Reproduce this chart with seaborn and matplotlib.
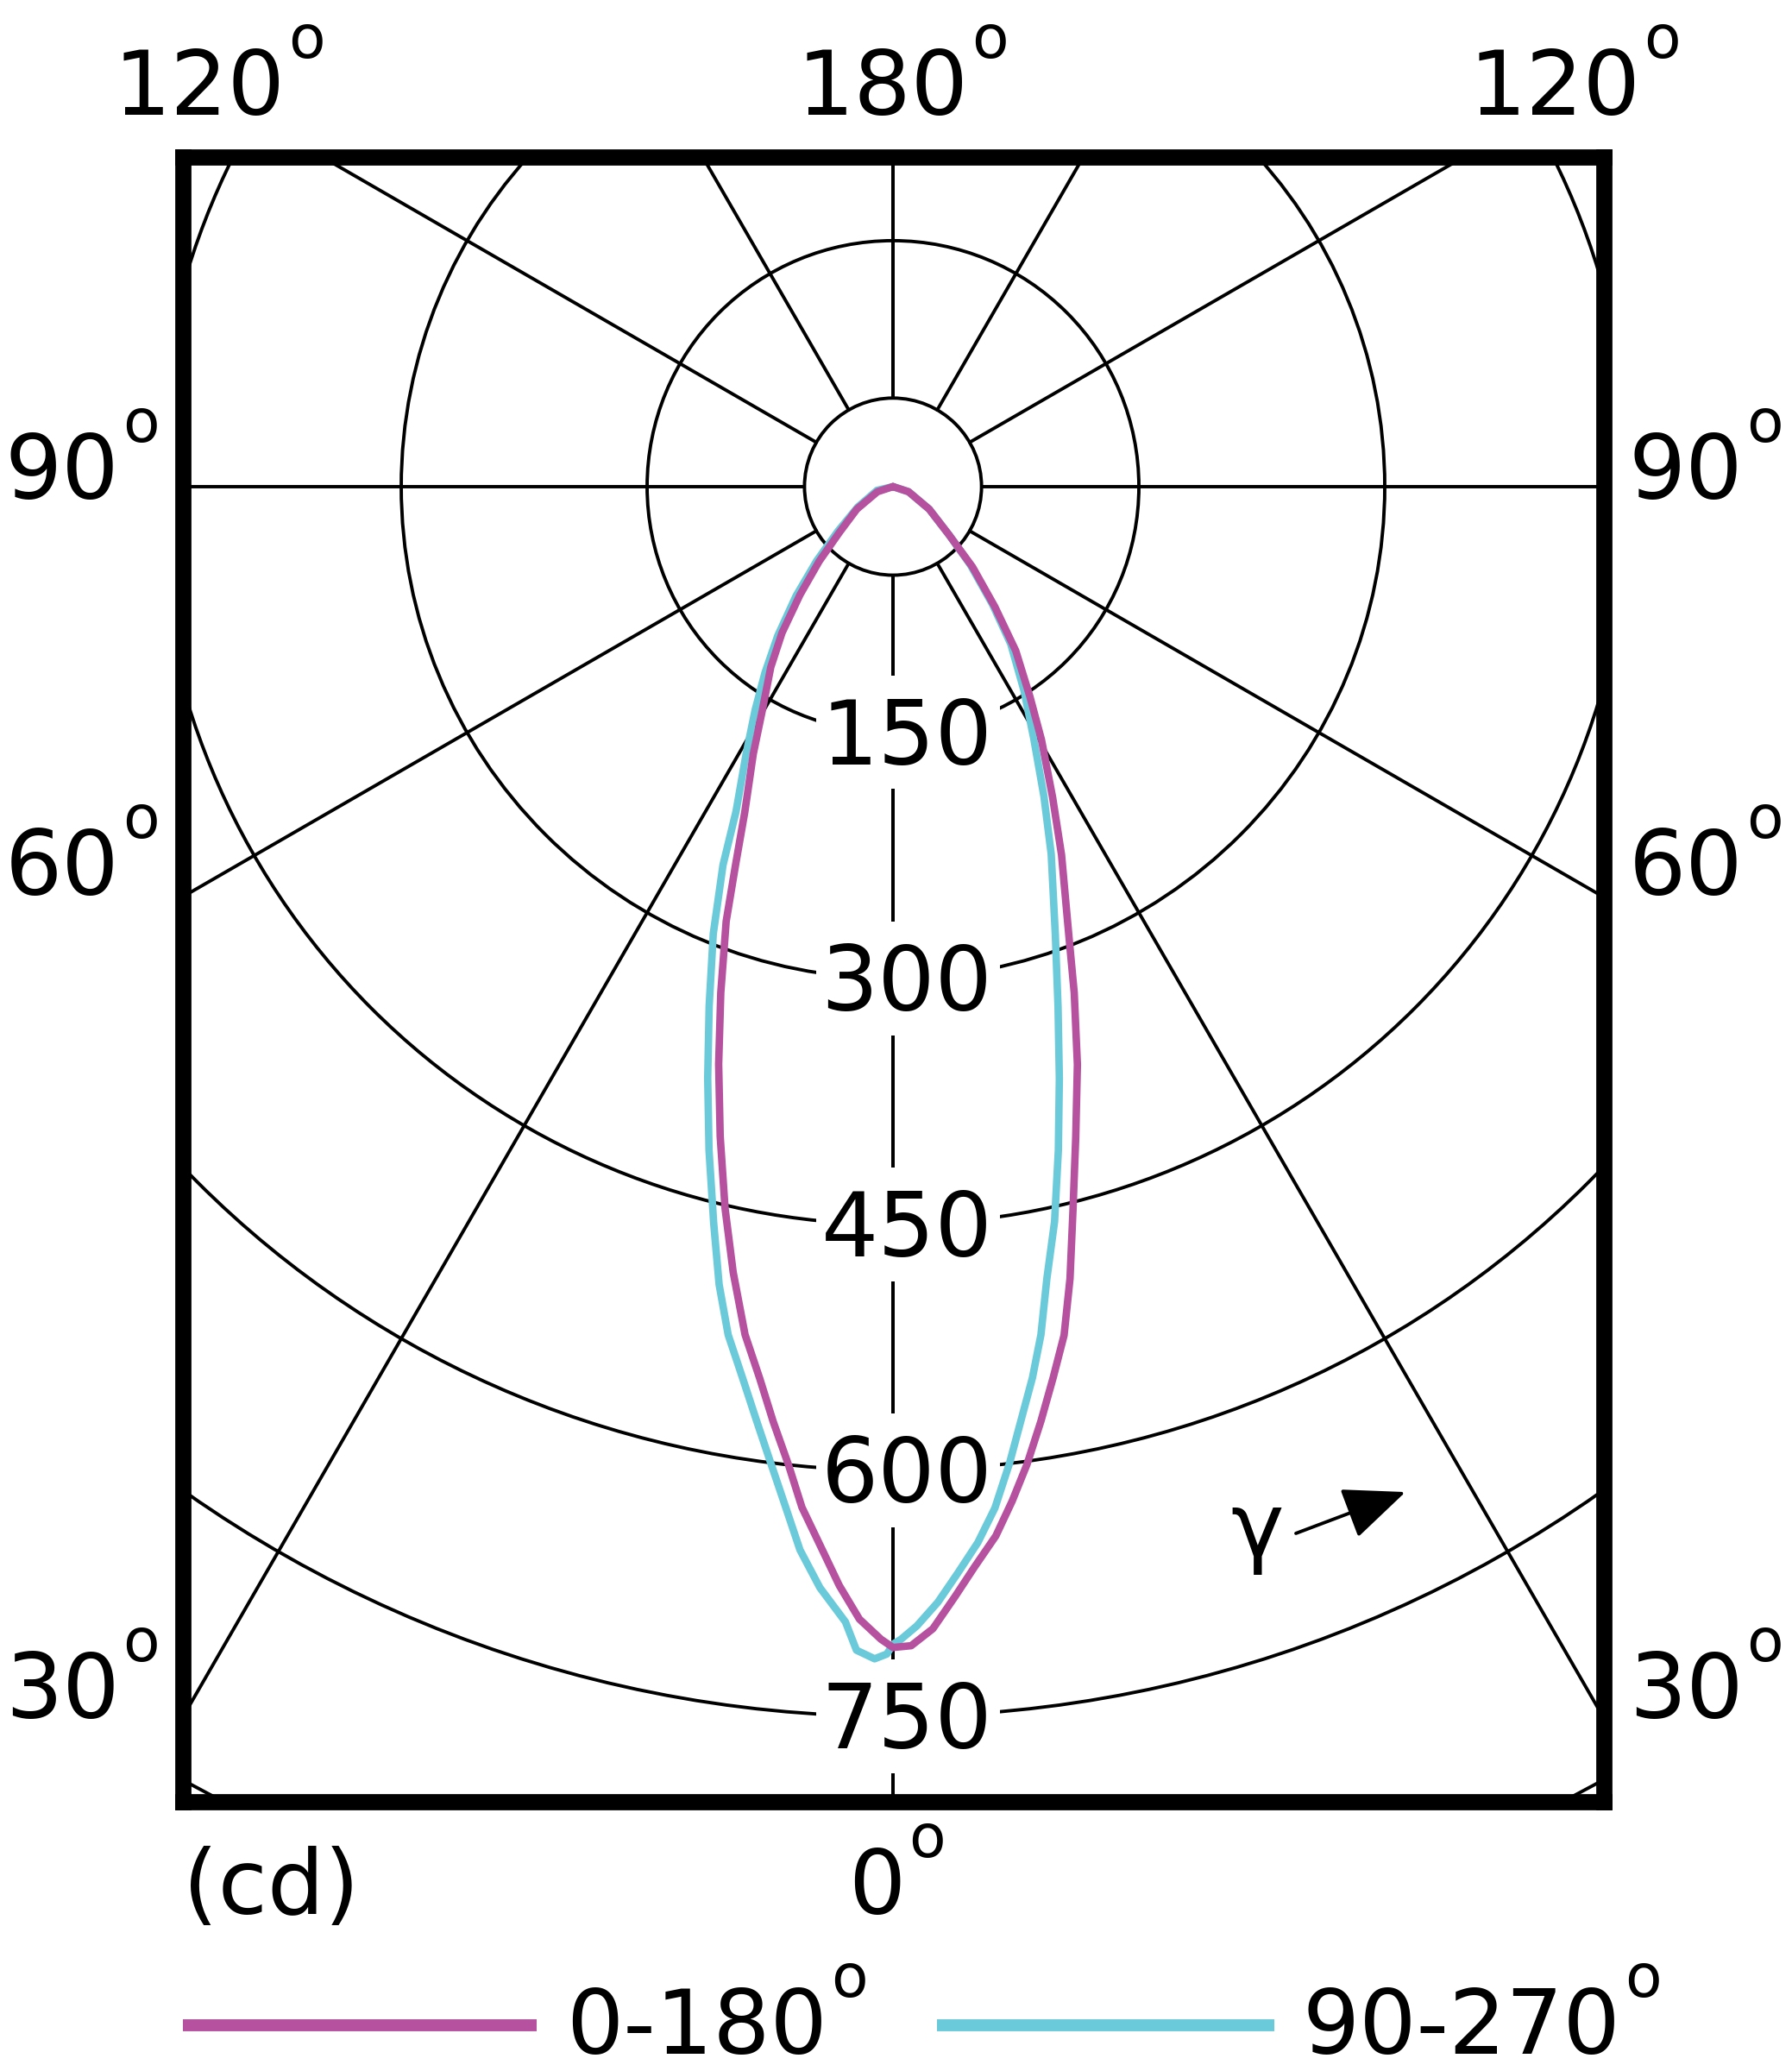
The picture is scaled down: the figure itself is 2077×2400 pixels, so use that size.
import numpy as np
import pandas as pd
import matplotlib
matplotlib.use("Agg")
import matplotlib.pyplot as plt
from matplotlib.patches import Circle, Rectangle
from matplotlib.lines import Line2D
import seaborn as sns

# Luminous intensity (cd) against gamma (deg from nadir).
# C0 / C180 plane (magenta): right half / left half
c0_gamma = [0, 0.9, 2.0, 3.2, 4.3, 5.6, 6.7, 7.8, 9.0, 10.2, 11.4, 12.6, 14.0, 15.7,
            17.7, 19.7, 21.4, 24.6, 27.2, 30.4, 33.1, 36.8, 40.3, 44.7, 49.3,
            58.1, 71.8, 90]
c0_cd = [708, 707, 697, 678, 661, 643, 623, 602, 577, 552, 528, 495, 454, 412,
         370, 328, 294, 247, 213, 179, 153, 125, 96, 69, 45, 26, 10, 0]

c180_gamma = [0, 0.6, 1.7, 2.8, 3.8, 5.1, 6.1, 7.3, 8.5, 9.9, 11.5, 13.1, 14.9,
              16.8, 18.8, 21.0, 22.6, 24.5, 27.6, 30.3, 34.1, 37.2, 40.7, 44.7,
              49.5, 58.1, 71.8, 90]
c180_cd = [708, 703, 691, 671, 650, 625, 600, 575, 550, 525, 489, 452, 410,
           368, 326, 284, 250, 218, 184, 158, 133, 112, 87, 64, 43, 26, 10, 0]

# C90 / C270 plane (cyan): right half / left half
c90_gamma = [0, 0.4, 1.2, 2.3, 3.4, 4.6, 5.7, 6.8, 7.8, 8.9, 9.9, 11.0, 12.4, 14.0,
             15.7, 17.6, 19.9, 23.3, 26.0, 29.2, 32.7, 36.8, 40.2, 44.7,
             49.3, 58.1, 71.8, 90]
c90_cd = [706, 703, 695, 681, 664, 646, 626, 600, 575, 550, 525, 492, 459, 417,
          375, 333, 291, 244, 210, 176, 148, 120, 94, 67, 45, 26, 10, 0]

c270_gamma = [0, 0.3, 0.9, 1.8, 2.4, 3.8, 5.0, 6.0, 7.1, 8.3, 9.6, 11.0, 12.3, 13.7,
              15.5, 17.4, 19.5, 21.9, 24.2, 25.8, 28.8, 31.7, 34.5, 37.7, 41.6,
              45.8, 51.1, 59.8, 76.8, 90]
c270_cd = [706, 712, 715, 710, 693, 673, 651, 626, 601, 576, 551, 527, 498, 462,
           420, 378, 336, 294, 253, 220, 186, 160, 138, 115, 89, 65, 43, 25, 10, 0]

ring_values = [150, 300, 450, 600, 750, 900, 1050]
ring_labels = [150, 300, 450, 600, 750]
spoke_angles = [0, 30, 60, 90, 120, 150, 180]
side_labels = ["90", "60", "30"]
top_labels = ["120", "180", "120"]
legend_labels = ["0-180", "90-270"]

MAGENTA = "#b5519f"
CYAN = "#6bcad9"
FS = 75          # main text size (pt)
RING_FS = 50     # size of the raised degree ring
LW_CURVE = 6.2
LW_GRID = 2.8
W, H = 2077, 2400

sns.set_style("white")
plt.rcParams["font.family"] = ["DejaVu Sans"]
plt.rcParams["text.color"] = "black"


def outline(g_left, i_left, g_right, i_right):
    gl = np.radians(g_left[::-1])
    il = np.array(i_left[::-1], dtype=float)
    gr = np.radians(g_right)
    ir = np.array(i_right, dtype=float)
    x = np.concatenate([-il * np.sin(gl), ir * np.sin(gr)])
    y = np.concatenate([-il * np.cos(gl), -ir * np.cos(gr)])
    return pd.DataFrame({"x": x, "y": y})


fig = plt.figure(figsize=(W / 100, H / 100), dpi=100)
renderer = fig.canvas.get_renderer()


def deg_text(x, y, label, ha="left"):
    """label with a raised small ring as degree sign; x, y in figure pixels (baseline)."""
    t = fig.text(0, 0, label, fontsize=FS, va="baseline", ha="left")
    r = fig.text(0, 0, "o", fontsize=RING_FS, va="baseline", ha="left")
    wt = t.get_window_extent(renderer).width
    wr = r.get_window_extent(renderer).width
    gap = 4
    total = wt + gap + wr
    x0 = {"left": x, "right": x - total, "center": x - total / 2}[ha]
    t.set_position((x0 / W, 1 - y / H))
    r.set_position(((x0 + wt + gap) / W, 1 - (y - 66) / H))


ax = fig.add_axes([212 / W, 312 / H, 1647 / W, 1906 / H])
ax.set_xlim(-433.2, 433.7)
ax.set_ylim(-802.1, 201.0)
ax.set_xticks([])
ax.set_yticks([])
for sp in ax.spines.values():
    sp.set_linewidth(13.5)
    sp.set_color("black")
    sp.set_visible(True)

# polar grid
ax.add_patch(Circle((0, 0), 54, fill=False, ec="black", lw=LW_GRID, zorder=1))
for r in ring_values:
    ax.add_patch(Circle((0, 0), r, fill=False, ec="black", lw=LW_GRID, zorder=1))
for a in spoke_angles:
    t = np.radians(a)
    for s in (-1, 1):
        ax.plot([s * 54 * np.sin(t), s * 1300 * np.sin(t)],
                [-54 * np.cos(t), -1300 * np.cos(t)], color="black", lw=LW_GRID, zorder=1)

# intensity labels along the 0 deg axis, on white patches that break the grid
for v in ring_labels:
    ax.add_patch(Rectangle((-47, -v - 34.5), 112, 69, fc="white", ec="none", zorder=1.5))
    ax.text(-44, -v - 19.7, str(v), fontsize=FS, ha="left", va="baseline", zorder=1.6)

# curves
df_90 = outline(c270_gamma, c270_cd, c90_gamma, c90_cd)
df_0 = outline(c180_gamma, c180_cd, c0_gamma, c0_cd)
sns.lineplot(data=df_90, x="x", y="y", sort=False, estimator=None, color=CYAN,
             linewidth=LW_CURVE, ax=ax, zorder=3, solid_joinstyle="round")
sns.lineplot(data=df_0, x="x", y="y", sort=False, estimator=None, color=MAGENTA,
             linewidth=LW_CURVE, ax=ax, zorder=3.1, solid_joinstyle="round")
for ln in ax.lines[-2:]:
    ln.set_linewidth(LW_CURVE)
ax.set_xlabel("")
ax.set_ylabel("")

# angle labels around the frame
for lab, yb in zip(side_labels, [578, 1037, 1991]):
    deg_text(185, yb, lab, ha="right")
    deg_text(1888, yb, lab, ha="left")
deg_text(377, 133, top_labels[0], ha="right")
deg_text(1046, 133, top_labels[1], ha="center")
deg_text(1702, 133, top_labels[2], ha="left")
deg_text(1039, 2218, "0", ha="center")
fig.text(212 / W, 1 - 2218 / H, "(cd)", fontsize=FS, va="baseline", ha="left")

# gamma arrow
ax.text(222, -652, "γ", fontsize=FS, ha="center", va="baseline", clip_on=False)
ax.annotate("", xy=(312.6, -613.2), xytext=(245.8, -638.4), xycoords="data",
            arrowprops=dict(arrowstyle="-|>,head_length=0.9,head_width=0.38",
                            mutation_scale=50, lw=2.8, color="black",
                            shrinkA=0, shrinkB=0), annotation_clip=False)

# legend
for (x0, x1), col, lab, xt in zip([(212, 622), (1086, 1477)], [MAGENTA, CYAN],
                                  legend_labels, [656, 1510]):
    fig.add_artist(Line2D([x0 / W, x1 / W], [1 - 2347 / H] * 2, color=col, lw=10,
                          solid_capstyle="butt"))
    deg_text(xt, 2380, lab, ha="left")

fig.savefig("out.png", dpi=100, facecolor="white")
